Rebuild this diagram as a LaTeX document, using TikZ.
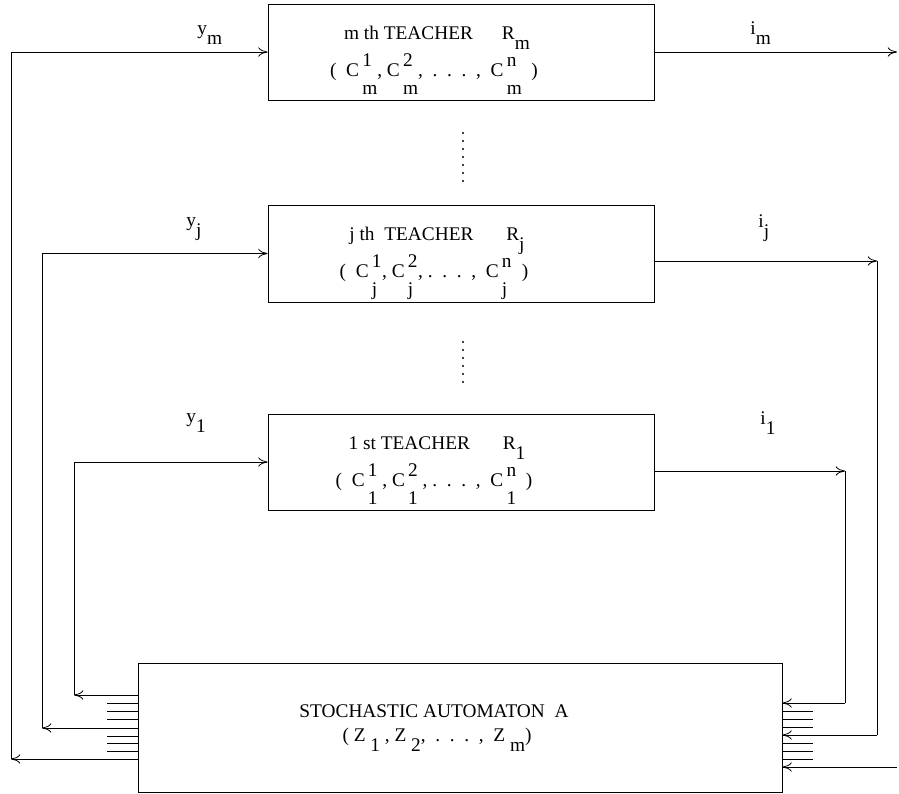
\documentclass[tikz,border=0pt]{standalone}
\usepackage{fontspec}
\setmainfont{Liberation Serif}
\usetikzlibrary{arrows.meta,positioning}

\newcommand{\lo}[1]{\raisebox{-0.55em}{#1}}
\newcommand{\cc}[3]{#1\,\rlap{\raisebox{0.5em}{#2}}\raisebox{-0.95em}{#3}}

\begin{document}
\begin{tikzpicture}[x=0.75pt,y=-0.75pt,line width=0.6pt,
    font=\fontsize{14.5}{17}\selectfont,
    >={To[length=7pt,width=7pt]},
    teacher/.style={draw,inner sep=0pt,minimum width=289.5pt,minimum height=72pt},
    automaton/.style={draw,inner sep=0pt,minimum width=483pt,minimum height=96.75pt},
    txt/.style={anchor=base,inner sep=0pt}]
        \useasboundingbox (0,0) rectangle (899,793);
        % teachers and automaton
        \node[teacher] (tm) at (461,52) {};
        \node[teacher,minimum height=72.75pt] (tj) at (461,253.5) {};
        \node[teacher] (tone) at (461,462) {};
        \node[automaton] (A) at (460,727.5) {};
        \node[txt] (tm1) at (437,39) {m th TEACHER\hspace{1.5em}R\lo{m}};
        \node[txt] (tm2) at (434,76) {(\ \ \cc{C}{1}{m},\ \cc{C}{2}{m}, \ .\ \ .\ \ .\ \ ,\ \ \cc{C}{n}{m}\ \ )};
        \node[txt] (tj1) at (437,240) {j th\ \ TEACHER\hspace{1.7em}R\lo{j}};
        \node[txt] (tj2) at (434,277) {(\ \ \cc{C}{1}{j}\ ,\ \cc{C}{2}{j}\ ,\ .\ \ .\ \ .\ \ ,\ \ \cc{C}{n}{j}\ \ \ )};
        \node[txt] (tone1) at (437,449) {1 st TEACHER\hspace{1.7em}R\lo{1}};
        \node[txt] (tone2) at (434,486) {(\ \ \cc{C}{1}{1}\ ,\ \cc{C}{2}{1}\ ,\ .\ \ .\ \ .\ \ ,\ \ \cc{C}{n}{1}\ \ )};
        \node[txt] (A1) at (434,717) {STOCHASTIC AUTOMATON\ \ A};
        \node[txt] (A2) at (437,741) {(\ Z\ \lo{1}\ , Z\ \lo{2}, \ .\ \ .\ \ .\ \ ,\ \ Z\ \lo{m})};
        % dots between the teachers
        \foreach \k in {0,...,6}
          \fill (463,133+8*\k) circle (0.9pt);
        \foreach \k in {0,...,5}
          \fill (463,342+8*\k) circle (0.9pt);
        % inputs y
        \coordinate (lm) at (11,759);
        \coordinate (lj) at (42,728);
        \coordinate (lone) at (74,695);
        \draw[->] (A.west |- lm) -- (lm);
        \draw[->] (lm) |- (tm.west);
        \draw[->] (A.west |- lj) -- (lj);
        \draw[->] (lj) |- (tj.west);
        \draw[->] (A.west |- lone) -- (lone);
        \draw[->] (lone) |- (tone.west);
        \node[txt,anchor=base west] (ym) at (197,34) {y\lo{m}};
        \node[txt,anchor=base west] (yj) at (186,226) {y\lo{j}};
        \node[txt,anchor=base west] (yone) at (186,422) {y\lo{1}};
        % outputs i
        \coordinate (rm) at (897,52);
        \coordinate (bm) at (897,767);
        \coordinate (rj) at (877,261);
        \coordinate (dj) at (877,735);
        \coordinate (rone) at (845,471);
        \coordinate (done) at (845,703);
        \draw[->] (tm.east) -- (rm);
        \draw[->] (bm) -- (A.east |- bm);
        \draw[->] (tj.east |- rj) -- (rj);
        \draw (rj) -- (dj);
        \draw[->] (dj) -- (A.east |- dj);
        \draw[->] (tone.east |- rone) -- (rone);
        \draw (rone) -- (done);
        \draw[->] (done) -- (A.east |- done);
        \node[txt,anchor=base west] (im) at (750,34) {i\lo{m}};
        \node[txt,anchor=base west] (ij) at (758,227) {i\lo{j}};
        \node[txt,anchor=base west] (ione) at (760,424) {i\lo{1}};
        % unused lines of the automaton
        \foreach \yy in {703,711,719,736,743,751}
          \draw (107,\yy) -- (138,\yy);
        \foreach \yy in {711,719,727,743,751,759}
          \draw (782,\yy) -- (813,\yy);
      \end{tikzpicture}
\end{document}
